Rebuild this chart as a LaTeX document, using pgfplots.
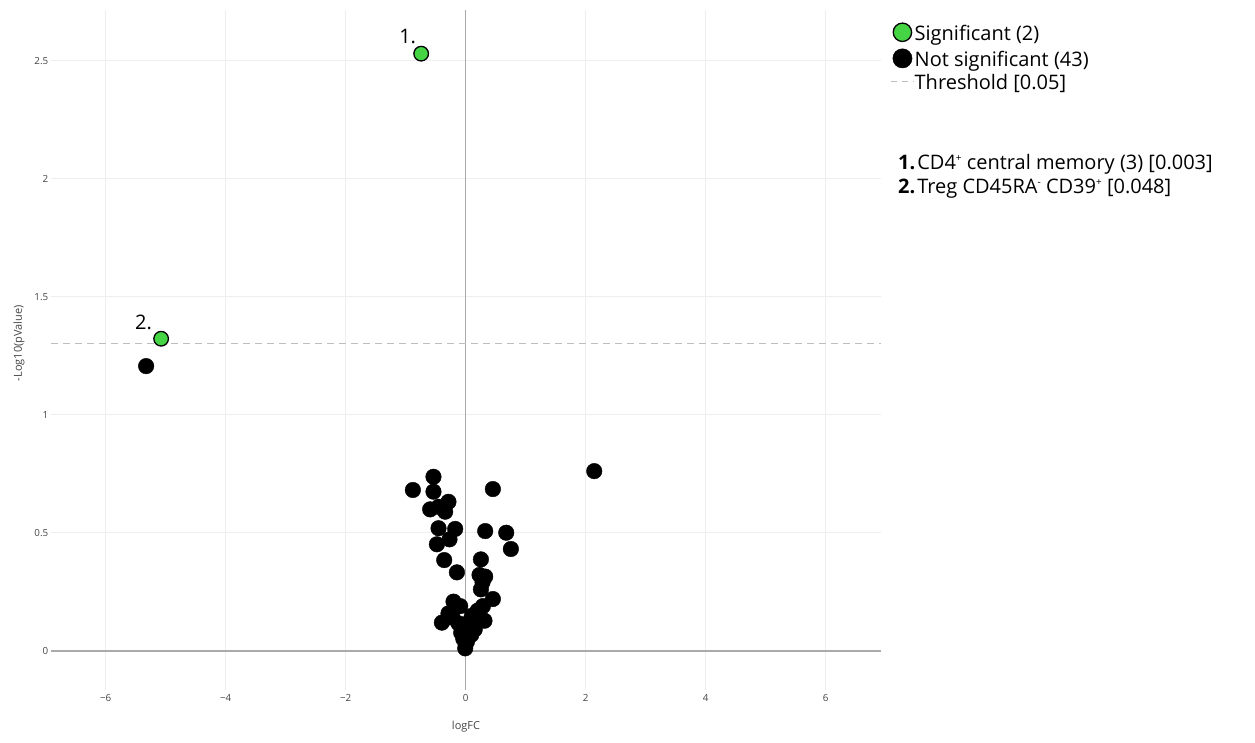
\documentclass[border=0pt]{standalone}
\usepackage{fontspec}
\setmainfont{Open Sans}
\usepackage{pgfplots}
\pgfplotsset{compat=1.18}
\definecolor{sig}{RGB}{68,212,68}
\definecolor{gridc}{RGB}{238,238,238}
\definecolor{zeroc}{RGB}{170,170,170}
\definecolor{thrc}{RGB}{190,190,190}
\definecolor{tickc}{RGB}{68,68,68}
\pgfplotsset{
  legmark/.style={legend image code/.code={\path (0pt,0pt) (23pt,0pt); \draw[##1] plot coordinates {(11.5pt,0.35em)};}},
  legline/.style={legend image code/.code={\draw[##1] (0pt,0.35em) -- (23pt,0.35em);}},
}
\begin{document}
\begin{tikzpicture}[x=1pt,y=1pt]
\begin{axis}[
  scale only axis, width=830pt, height=680pt,
  xmin=-6.91, xmax=6.92, ymin=-0.1665, ymax=2.715,
  xtick={-6,-4,-2,0,2,4,6},
  xticklabels={−6,−4,−2,0,2,4,6},
  ytick={0,0.5,1,1.5,2,2.5},
  yticklabels={0,0.5,1,1.5,2,2.5},
  grid=major, major grid style={color=gridc, line width=1pt},
  axis line style={draw=none}, major tick length=0pt,
  ticklabel style={font=\fontsize{9.8}{11}\selectfont, text=tickc},
  xticklabel style={anchor=center, inner sep=0pt, yshift=-8pt},
  yticklabel style={anchor=east, inner sep=0pt, xshift=-2.5pt},
  xlabel={logFC}, ylabel={-Log10(pValue)},
  label style={font=\fontsize{11}{13}\selectfont, text=tickc},
  xlabel style={at={(axis description cs:0.5,-0.0544)}, anchor=center},
  ylabel style={at={(axis description cs:-0.0386,0.51)}, anchor=center},
  clip=false,
  legend cell align=left,
  legend style={at={(axis description cs:1.0072,0.984)}, anchor=north west,
    draw=none, fill=none, font=\fontsize{20}{24}\selectfont,
    row sep=3pt, /tikz/every even column/.style={column sep=1.5pt},
    nodes={inner sep=0pt, text height=15pt, text depth=5pt}},
]
% legend
\addlegendimage{legmark, mark=*, mark size=9.2pt, mark options={fill=sig, draw=black, line width=1.3pt}}
\addlegendentry{Significant (2)}
\addlegendimage{legmark, mark=*, mark size=9.6pt, mark options={fill=black, draw=black, line width=0.5pt}}
\addlegendentry{Not significant (43)}
\addlegendimage{legline, thrc, line width=1.5pt, dash pattern=on 6pt off 5pt}
\addlegendentry{Threshold [0.05]}
% zero lines
\addplot[forget plot, zeroc, line width=1.3pt] coordinates {(0,-0.1665) (0,2.715)};
\addplot[forget plot, zeroc, line width=2pt] coordinates {(-6.91,0) (6.92,0)};
% threshold
\addplot[forget plot, thrc, line width=1.5pt, dash pattern=on 7pt off 5pt] coordinates {(-6.91,1.30103) (6.92,1.30103)};
% not significant
\addplot[forget plot, only marks, mark=*, mark size=7.8pt, mark options={fill=black, draw=black, line width=0.4pt}] table {
x y
-5.325 1.206
2.142 0.761
-0.537 0.737
-0.880 0.681
-0.537 0.674
-0.287 0.631
-0.592 0.599
-0.342 0.589
0.453 0.685
-0.453 0.519
-0.175 0.516
-0.270 0.472
-0.480 0.451
0.325 0.507
0.675 0.500
0.753 0.431
-0.358 0.384
0.253 0.387
-0.147 0.332
0.230 0.321
0.325 0.314
0.253 0.260
0.453 0.219
-0.203 0.208
-0.092 0.189
0.287 0.189
-0.287 0.158
0.103 0.148
0.313 0.127
-0.397 0.119
-0.120 0.116
0.075 0.102
-0.075 0.076
0.092 0.067
0.020 0.038
-0.008 0.010
-0.220 0.140
0.200 0.170
0.050 0.120
-0.040 0.050
0.150 0.090
0.280 0.290
-0.450 0.610
};
% significant
\addplot[forget plot, only marks, mark=*, mark size=7.3pt, mark options={fill=sig, draw=black, line width=1.3pt}] table {
x y
-0.742 2.530
-5.075 1.322
};
\node[font=\fontsize{20}{24}\selectfont, xshift=-13.5pt, yshift=17pt] at (axis cs:-0.742,2.530) {1.};
\node[font=\fontsize{20}{24}\selectfont, xshift=-17.5pt, yshift=16pt] at (axis cs:-5.075,1.322) {2.};
\coordinate (bl) at (rel axis cs:0,0);
\end{axis}
\pgfresetboundingbox
\begin{scope}[shift={(bl)}, xshift=-51pt, yshift=-52pt]
\path[use as bounding box] (0,0) rectangle (1255,742);
\node[anchor=base west, font=\fontsize{20}{24}\selectfont, inner sep=0pt] at (898,572) {\textbf{1.}\hspace{2pt}CD4\raisebox{0.42em}{\fontsize{10}{10}\selectfont +} central memory (3) [0.003]};
\node[anchor=base west, font=\fontsize{20}{24}\selectfont, inner sep=0pt] at (898,548) {\textbf{2.}\hspace{2pt}Treg CD45RA\raisebox{0.42em}{\fontsize{10}{10}\selectfont -} CD39\raisebox{0.42em}{\fontsize{10}{10}\selectfont +} [0.048]};
\end{scope}
\end{tikzpicture}
\end{document}
